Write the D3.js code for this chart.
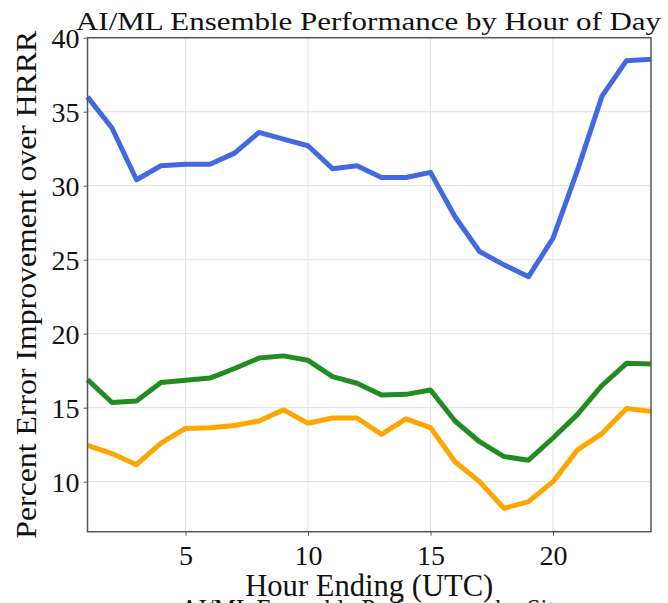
<!DOCTYPE html>
<html><head><meta charset="utf-8">
<script src="https://cdn.jsdelivr.net/npm/d3@7"></script>
<style>
html,body{margin:0;padding:0;background:#fff;overflow:hidden}
text{font-family:"Liberation Serif","Times New Roman",Times,serif;fill:#111}
</style></head>
<body>
<svg id="chart" width="668" height="603"></svg>
<script>
const hours = [1,2,3,4,5,6,7,8,9,10,11,12,13,14,15,16,17,18,19,20,21,22,23,24];
const blueValues = [36.0,33.9,30.4,31.35,31.45,31.45,32.2,33.6,33.15,32.7,31.15,31.35,30.55,30.55,30.9,27.9,25.55,24.65,23.85,26.45,31.05,36.05,38.45,38.55];
const greenValues = [16.9,15.35,15.45,16.7,16.85,17.0,17.65,18.35,18.5,18.2,17.1,16.65,15.85,15.9,16.2,14.1,12.7,11.7,11.45,12.95,14.55,16.5,18.0,17.95];
const orangeValues = [12.45,11.9,11.15,12.6,13.6,13.65,13.8,14.1,14.85,13.95,14.3,14.3,13.2,14.25,13.65,11.35,10.0,8.2,8.65,10.0,12.15,13.25,14.95,14.75];
const seriesColors = ["#4169e1","#228b22","#ffa500"];
const xTicks = [5,10,15,20];
const yTicks = [10,15,20,25,30,35,40];
const titleText = "AI/ML Ensemble Performance by Hour of Day";
const xLabelText = "Hour Ending (UTC)";
const yLabelText = "Percent Error Improvement over HRRR";
const nextTitleText = "AI/ML Ensemble Performance by Site";

const svg = d3.select("#chart");
const L = 87.5, R = 651, T = 37.7, B = 531.7;
const x = d3.scaleLinear().domain([1,24]).range([L,R]);
const y = d3.scaleLinear().domain([6.62,40]).range([B,T]);

// grid
const g = svg.append("g");
g.selectAll("line.vg").data(xTicks).join("line")
  .attr("x1",d=>x(d)).attr("x2",d=>x(d)).attr("y1",T).attr("y2",B)
  .attr("stroke","#e0e0e0").attr("stroke-width",1);
g.selectAll("line.hg").data(yTicks).join("line")
  .attr("y1",d=>y(d)).attr("y2",d=>y(d)).attr("x1",L).attr("x2",R)
  .attr("stroke","#e0e0e0").attr("stroke-width",1);

// lines
const series = [blueValues, greenValues, orangeValues];
const line = d3.line().x((d,i)=>x(hours[i])).y(d=>y(d));
svg.append("g").selectAll("path").data(series).join("path")
  .attr("d",line).attr("fill","none")
  .attr("stroke",(d,i)=>seriesColors[i]).attr("stroke-width",5)
  .attr("stroke-linejoin","round");

// axes
const xAxis = svg.append("g").attr("transform",`translate(0,${B})`)
  .call(d3.axisBottom(x).tickValues(xTicks).tickSize(4).tickPadding(5));
const yAxis = svg.append("g").attr("transform",`translate(${L},0)`)
  .call(d3.axisLeft(y).tickValues(yTicks).tickSize(4).tickPadding(4));
[xAxis,yAxis].forEach(a=>{
  a.select(".domain").remove();
  a.selectAll(".tick line").attr("stroke","#555").attr("stroke-width",1);
  a.selectAll(".tick text").attr("font-size",28).attr("fill","#111");
});
xAxis.selectAll(".tick text").attr("dy","0.88em");
yAxis.selectAll(".tick text").attr("dy","0.34em");

// frame
svg.append("rect").attr("x",L).attr("y",T).attr("width",R-L).attr("height",B-T)
  .attr("fill","none").attr("stroke","#555").attr("stroke-width",1.5);

// title
svg.append("text").attr("x",76).attr("y",30).attr("font-size",25)
  .attr("textLength",585).attr("lengthAdjust","spacingAndGlyphs").text(titleText);
// x label
svg.append("text").attr("x",(L+R)/2).attr("y",596).attr("text-anchor","middle")
  .attr("font-size",32).attr("textLength",248).attr("lengthAdjust","spacingAndGlyphs")
  .text(xLabelText);
// y label
svg.append("text").attr("transform",`translate(36,${(T+B)/2}) rotate(-90)`)
  .attr("text-anchor","middle").attr("font-size",30)
  .attr("textLength",508).attr("lengthAdjust","spacingAndGlyphs").text(yLabelText);
// cut-off next title (only the tops of its letters show in the reference)
svg.append("text").attr("x",373).attr("y",617).attr("text-anchor","middle")
  .attr("font-size",25).text(nextTitleText);
</script>
</body></html>
